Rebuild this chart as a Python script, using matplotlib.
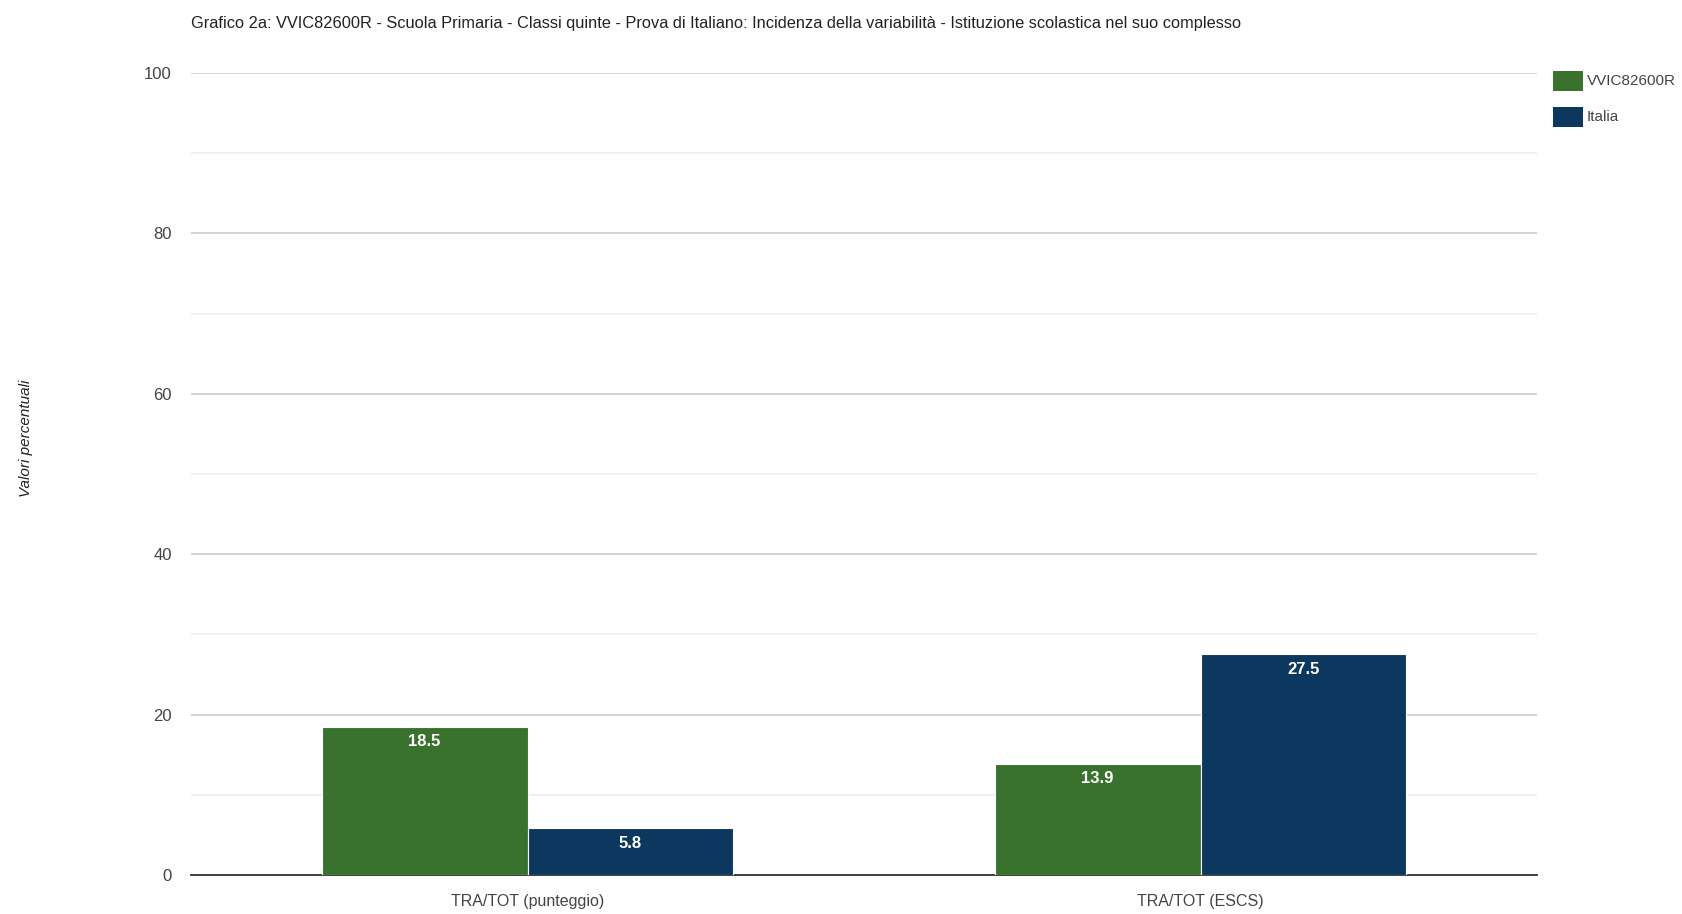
import numpy as np
import matplotlib
matplotlib.use('Agg')
import matplotlib.pyplot as plt
from matplotlib.patches import Rectangle

plt.rcParams['font.family'] = ['Liberation Sans Narrow', 'Liberation Sans', 'DejaVu Sans']

categorie = ['TRA/TOT (punteggio)', 'TRA/TOT (ESCS)']
serie = ['VVIC82600R', 'Italia']
valori_scuola = [18.5, 13.9]
valori_italia = [5.8, 27.5]
colori = ['#38722d', '#0c375e']
titolo = ('Grafico 2a: VVIC82600R - Scuola Primaria - Classi quinte - Prova di Italiano: '
          'Incidenza della variabilità - Istituzione scolastica nel suo complesso')

fig = plt.figure(figsize=(16.82, 9.14), dpi=100)
ax = fig.add_axes([0.1136, 0.0427, 0.8002, 0.8774])

x = np.arange(len(categorie))
w = 0.306
b1 = ax.bar(x - w / 2, valori_scuola, w, color=colori[0], edgecolor='white', linewidth=0.8, zorder=3)
b2 = ax.bar(x + w / 2, valori_italia, w, color=colori[1], edgecolor='white', linewidth=0.8, zorder=3)

for bars, vals in [(b1, valori_scuola), (b2, valori_italia)]:
    for r, v in zip(bars, vals):
        ax.text(r.get_x() + r.get_width() / 2, v - 0.9, f'{v:.1f}', ha='center', va='top',
                color='white', fontsize=12, fontweight='bold', zorder=4)

ax.set_xlim(-0.5, 1.5)
ax.set_ylim(0, 100)
ax.set_yticks(np.arange(0, 101, 20))
ax.set_yticks(np.arange(10, 100, 20), minor=True)
ax.grid(axis='y', which='major', color='#d0d0d0', linewidth=1.3, zorder=0)
ax.grid(axis='y', which='minor', color='#ececec', linewidth=1.1, zorder=0)
ax.set_xticks(x)
ax.set_xticklabels(categorie)
ax.tick_params(axis='both', which='both', length=0, labelsize=12, colors='#444444')
ax.tick_params(axis='y', pad=14)
ax.tick_params(axis='x', pad=14, labelsize=11.5)
for s in ['top', 'right', 'left']:
    ax.spines[s].set_visible(False)
ax.spines['bottom'].set_color('#333333')
ax.spines['bottom'].set_linewidth(1.3)

fig.text(0.0155, 0.52, 'Valori percentuali', rotation=90, ha='center', va='center',
         fontsize=11, style='italic', color='#222222')
fig.text(0.1136, 0.974, titolo, ha='left', va='center', fontsize=11.8, color='#222222')

# legenda
for i, (nome, col) in enumerate(zip(serie, colori)):
    y0 = 0.900 - i * 0.039
    fig.patches.append(Rectangle((0.9234, y0), 0.0175, 0.022, transform=fig.transFigure,
                                 facecolor=col, edgecolor='none'))
    fig.text(0.9435, y0 + 0.011, nome, ha='left', va='center', fontsize=11, color='#444444')

fig.savefig('out.png', dpi=100)
